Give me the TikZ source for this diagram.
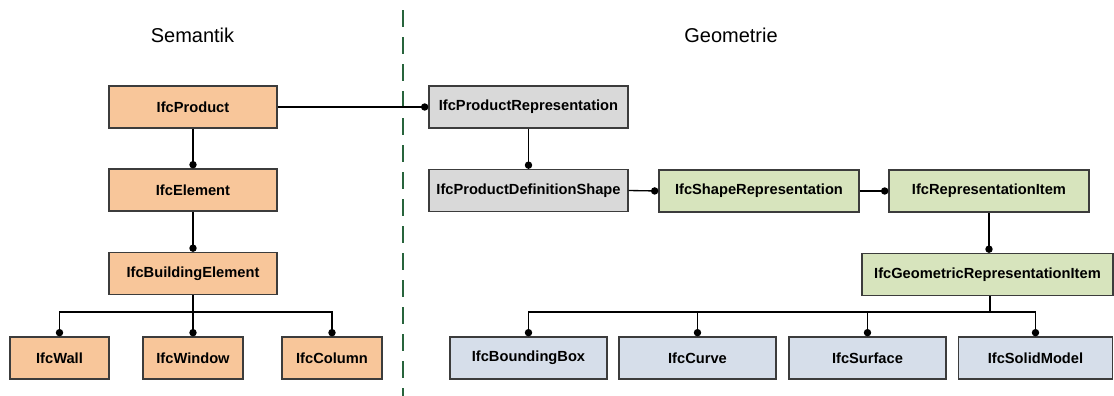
\documentclass[tikz,border=0pt]{standalone}
\usepackage{fontspec}
\setmainfont{Liberation Sans}
\usetikzlibrary{arrows.meta}
\definecolor{orangefill}{RGB}{248,198,154}
\definecolor{greyfill}{RGB}{217,217,217}
\definecolor{greenfill}{RGB}{215,228,189}
\definecolor{bluefill}{RGB}{214,222,234}
\definecolor{edgecol}{RGB}{60,60,60}
\definecolor{divider}{RGB}{40,100,60}
\begin{document}
\begin{tikzpicture}[x=0.75pt,y=-0.75pt,
  box/.style={draw=edgecol,line width=1pt,inner sep=0pt,minimum height=31.5pt,
    font=\fontsize{11}{13}\selectfont\bfseries},
  sembox/.style={box,fill=orangefill},
  greybox/.style={box,fill=greyfill},
  greenbox/.style={box,fill=greenfill},
  bluebox/.style={box,fill=bluefill},
  link/.style={line width=1pt,-{Circle[length=5.5pt]}},
  busline/.style={line width=1pt},
  title/.style={font=\fontsize{15}{18}\selectfont,anchor=base,inner sep=0pt}
]
\useasboundingbox (0,0) rectangle (1114,396);

% titles
\node[title] (tsem) at (192.5,42) {Semantik};
\node[title] (tgeo) at (731,42) {Geometrie};

% divider
\draw[divider,line width=1pt,dash pattern=on 12.75pt off 7.5pt] (403,10) -- (403,396);

% left side
\node[sembox,minimum width=126pt] (prod) at (193,107) {IfcProduct};
\node[sembox,minimum width=126pt] (elem) at (193,190) {IfcElement};
\node[sembox,minimum width=126pt] (build) at (193,273.5) {IfcBuildingElement};
\node[sembox,minimum width=74.25pt] (wall) at (59.5,358) {IfcWall};
\node[sembox,minimum width=75pt] (window) at (193,358) {IfcWindow};
\node[sembox,minimum width=75pt] (column) at (332,358) {IfcColumn};

% right side
\node[greybox,minimum width=149.25pt] (prep) at (528.5,107) {IfcProductRepresentation};
\node[greybox,minimum width=149.25pt] (pdef) at (528.5,190.5) {IfcProductDefinitionShape};
\node[greenbox,minimum width=150pt] (shape) at (759,191) {IfcShapeRepresentation};
\node[greenbox,minimum width=150pt] (ritem) at (989,191) {IfcRepresentationItem};
\node[greenbox,minimum width=188.25pt] (geo) at (987.5,274.5) {IfcGeometricRepresentationItem};
\node[bluebox,minimum width=117.75pt] (bbox) at (528.5,358) {IfcBoundingBox};
\node[bluebox,minimum width=117.75pt] (curve) at (697.5,358) {IfcCurve};
\node[bluebox,minimum width=117.75pt] (surf) at (867.5,358) {IfcSurface};
\node[bluebox,minimum width=115.5pt] (solid) at (1035.5,358) {IfcSolidModel};

\coordinate (lbus) at (193,312);
\coordinate (rbus) at (990,312);

% connectors left
\draw[link] (prod.east) -- (prep.west);
\draw[link] (prod.south) -- (elem.north);
\draw[link] (elem.south) -- (build.north);
\draw[busline] (build.south) -- (lbus);
\draw[link] (lbus) -| (wall.north);
\draw[link] (lbus) -- (window.north);
\draw[link] (lbus) -| (column.north);

% connectors right
\draw[link] (prep.south) -- (pdef.north);
\draw[link] (pdef.east) -- (shape.west);
\draw[link] (shape.east) -- (ritem.west);
\draw[link] (ritem.south) -- (ritem.south |- geo.north);
\draw[busline] (rbus |- geo.south) -- (rbus);
\draw[link] (rbus) -| (bbox.north);
\draw[link] (rbus) -| (curve.north);
\draw[link] (rbus) -| (surf.north);
\draw[link] (rbus) -| (solid.north);
\end{tikzpicture}
\end{document}
